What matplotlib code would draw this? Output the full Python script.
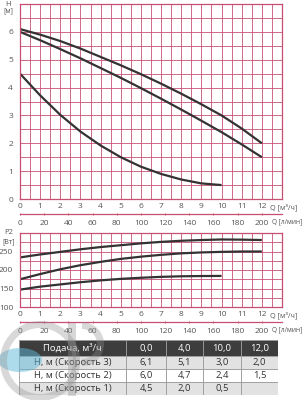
import matplotlib
matplotlib.use("Agg")
import matplotlib.pyplot as plt
from matplotlib.ticker import MultipleLocator, FixedLocator
from matplotlib.patches import Rectangle, Ellipse, Wedge

plt.rcParams['font.family'] = ['Open Sans', 'DejaVu Sans']

# ---- data ----
q_s3 = [0, 1, 2, 3, 4, 5, 6, 7, 8, 9, 10, 11, 12]
h_s3 = [6.1, 5.9, 5.67, 5.4, 5.1, 4.8, 4.48, 4.14, 3.78, 3.4, 3.0, 2.53, 2.0]
q_s2 = [0, 1, 2, 3, 4, 5, 6, 7, 8, 9, 10, 11, 12]
h_s2 = [6.0, 5.7, 5.38, 5.05, 4.7, 4.35, 3.98, 3.6, 3.21, 2.81, 2.4, 1.96, 1.5]
q_s1 = [0, 1, 2, 3, 4, 5, 6, 7, 8, 9, 10]
h_s1 = [4.5, 3.72, 3.02, 2.42, 1.92, 1.5, 1.16, 0.9, 0.7, 0.56, 0.5]

qp_s3 = [0, 1, 2, 3, 4, 5, 6, 7, 8, 9, 10, 11, 12]
p_s3 = [234, 242, 249, 256, 262, 267, 272, 276, 279, 281, 282.5, 282, 281]
qp_s2 = [0, 1, 2, 3, 4, 5, 6, 7, 8, 9, 10, 11, 12]
p_s2 = [175, 189, 202, 213, 222, 230, 236, 241, 245, 247.5, 249, 250, 250]
qp_s1 = [0, 1, 2, 3, 4, 5, 6, 7, 8, 9, 10]
p_s1 = [147, 155, 161, 167, 172, 176, 179, 181.5, 183, 183.7, 184]

q_ticks = list(range(0, 13))
lmin_ticks = list(range(0, 201, 20))
h_ticks = list(range(0, 7))
p_ticks = [100, 150, 200, 250]

table_header = ["Подача, м³/ч", "0,0", "4,0", "10,0", "12,0"]
table_rows = [
    ["Н, м (Скорость 3)", "6,1", "5,1", "3,0", "2,0"],
    ["Н, м (Скорость 2)", "6,0", "4,7", "2,4", "1,5"],
    ["Н, м (Скорость 1)", "4,5", "2,0", "0,5", ""],
]

GRID = '#c64f72'
TXT = '#555555'
CURVE = '#333333'
W, H = 305, 400

fig = plt.figure(figsize=(W / 100, H / 100), dpi=100)


def px_axes(x0, y0, x1, y1, **kw):
    return fig.add_axes([x0 / W, 1 - y1 / H, (x1 - x0) / W, (y1 - y0) / H], **kw)


def style(ax, ymin, ymax, ystep, yt):
    ax.set_xlim(0, 13)
    ax.set_ylim(ymin, ymax)
    ax.xaxis.set_major_locator(FixedLocator(q_ticks))
    ax.xaxis.set_minor_locator(MultipleLocator(0.5))
    ax.yaxis.set_major_locator(FixedLocator(yt))
    ax.yaxis.set_minor_locator(MultipleLocator(ystep))
    ax.grid(which='both', color=GRID, lw=0.7, alpha=0.85)
    ax.tick_params(which='both', length=0, labelsize=6, labelcolor=TXT)
    ax.tick_params(axis='x', pad=3)
    ax.tick_params(axis='y', pad=5)
    for s in ax.spines.values():
        s.set_color(GRID)
        s.set_linewidth(0.9)
    ax.set_axisbelow(True)
    sec = ax.secondary_xaxis('bottom', functions=(lambda q: q * 1000 / 60, lambda l: l * 60 / 1000))
    return sec


# ---- top chart (H) ----
ax1 = px_axes(20, 4, 282, 199)
sec1 = style(ax1, 0, 7, 0.5, h_ticks)
ax1.plot(q_s3, h_s3, color=CURVE, lw=1.6, solid_capstyle='butt')
ax1.plot(q_s2, h_s2, color=CURVE, lw=1.6, solid_capstyle='butt')
ax1.plot(q_s1, h_s1, color=CURVE, lw=1.6, solid_capstyle='butt')
ax1.text(-0.045, 1.0, "H", transform=ax1.transAxes, fontsize=5.5, color=TXT, ha='center', va='center')
ax1.text(-0.045, 0.967, "[м]", transform=ax1.transAxes, fontsize=5, color=TXT, ha='center', va='center')

# ---- bottom chart (P2) ----
ax2 = px_axes(20, 233, 282, 307)
sec2 = style(ax2, 100, 300, 25, p_ticks)
ax2.plot(qp_s3, p_s3, color=CURVE, lw=1.6, solid_capstyle='butt')
ax2.plot(qp_s2, p_s2, color=CURVE, lw=1.6, solid_capstyle='butt')
ax2.plot(qp_s1, p_s1, color=CURVE, lw=1.6, solid_capstyle='butt')
ax2.text(-0.045, 1.0, "P2", transform=ax2.transAxes, fontsize=5.5, color=TXT, ha='center', va='center')
ax2.text(-0.045, 0.88, "[Вт]", transform=ax2.transAxes, fontsize=5, color=TXT, ha='center', va='center')

for ax, sec, h_px in [(ax1, sec1, 195), (ax2, sec2, 74)]:
    sec.set_location(-15 / h_px)
    sec.set_xticks(lmin_ticks)
    sec.tick_params(length=2, direction='inout', width=0.7, color=GRID, labelsize=6, labelcolor=TXT, pad=3)
    sec.spines['bottom'].set_color(GRID)
    sec.spines['bottom'].set_linewidth(0.9)
    ax.text(12.42, -8 / h_px, "Q [м³/ч]", transform=ax.get_xaxis_transform(), fontsize=5.2,
            color=TXT, ha='left', va='center')
    ax.text(12.5, -23 / h_px, "Q [л/мин]", transform=ax.get_xaxis_transform(), fontsize=4.7,
            color=TXT, ha='left', va='center')

# ---- table ----
axt = px_axes(19, 340, 278, 395)
axt.set_xlim(0, 259)
axt.set_ylim(55, 0)
axt.axis('off')
col_w = [107, 40, 37, 38, 37]
row_h = [16, 13, 13, 13]
bgs = ['#3d3d3d', '#e2e2e2', '#ffffff', '#e2e2e2']
rows = [table_header] + table_rows
y = 0
for r, (row, rh) in enumerate(zip(rows, row_h)):
    x = 0
    for c, (cell, cw) in enumerate(zip(row, col_w)):
        axt.add_patch(Rectangle((x, y), cw, rh, facecolor=bgs[r], edgecolor='#9a9a9a', lw=0.6))
        axt.text(x + cw / 2, y + rh / 2, cell, ha='center', va='center', fontsize=6.8,
                 color='white' if r == 0 else '#333333')
        x += cw
    y += rh

# ---- watermark (logo shapes) ----
axw = px_axes(0, 0, W, H, zorder=10)
axw.set_xlim(0, W)
axw.set_ylim(H, 0)
axw.axis('off')
axw.patch.set_alpha(0)
axw.add_patch(Ellipse((20, 360), 44, 24, facecolor='#5fb9da', alpha=0.5, edgecolor='none'))
axw.add_patch(Wedge((40, 361), 40, 0, 360, width=7, facecolor='#909090', alpha=0.35, edgecolor='none'))
axw.add_patch(Rectangle((68, 323), 8, 73, facecolor='#909090', alpha=0.35, edgecolor='none'))
axw.add_patch(Wedge((82, 344), 22, -90, 90, width=7, facecolor='#909090', alpha=0.35, edgecolor='none'))

fig.savefig("out.png", dpi=100)
